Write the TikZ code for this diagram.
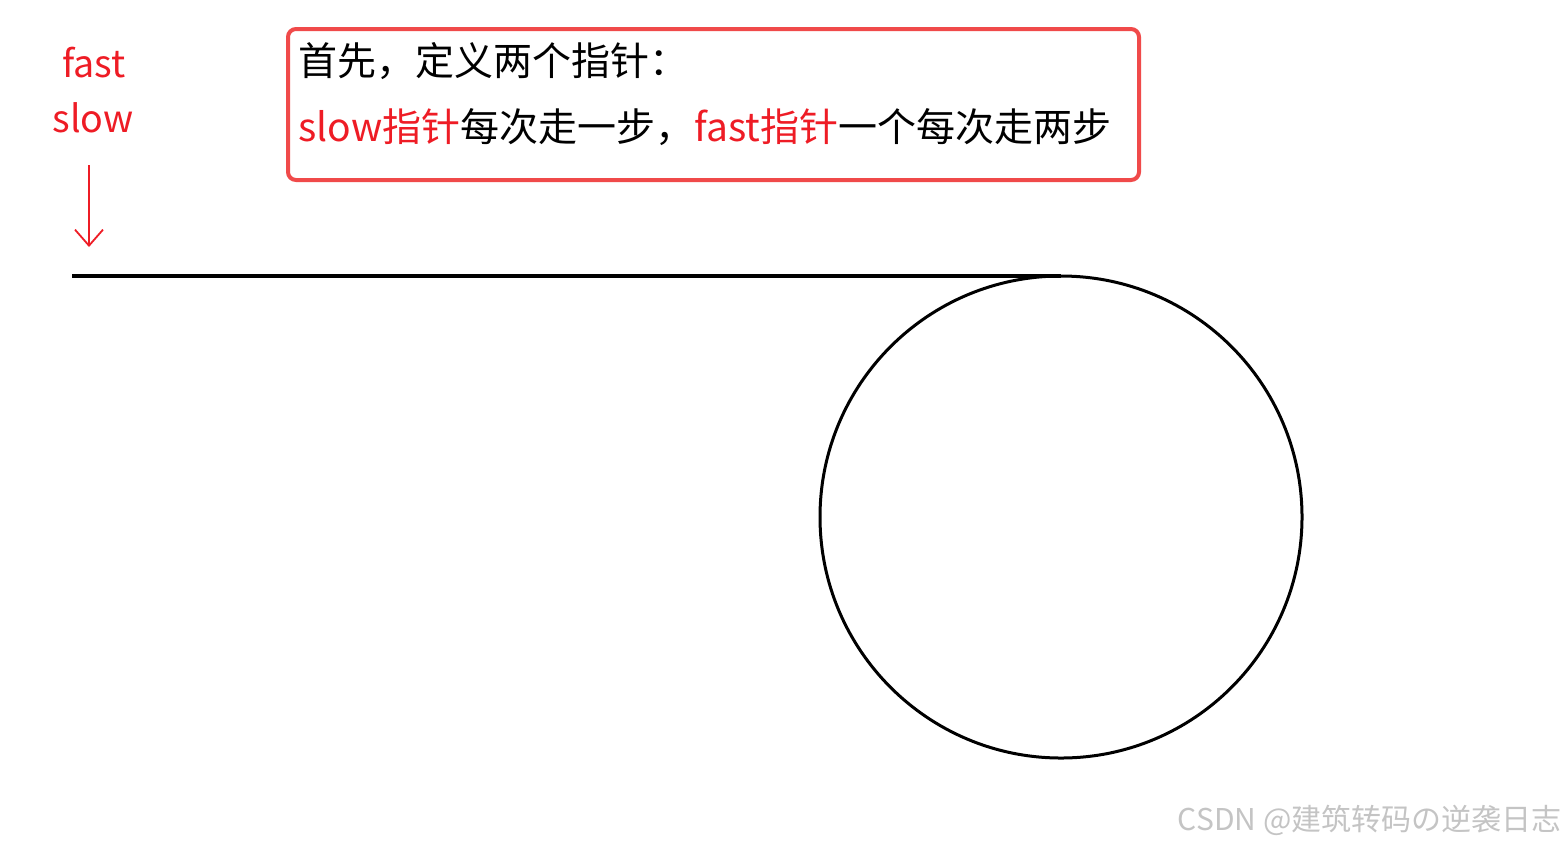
\documentclass[tikz,border=0pt]{standalone}
\usepackage{fontspec}
\setmainfont{Noto Sans CJK SC}
\usetikzlibrary{arrows.meta}
\definecolor{ptrred}{HTML}{EE1C25}
\definecolor{boxred}{HTML}{F04A4A}
\definecolor{wmgray}{HTML}{C4C4C4}
\tikzset{
  bigtext/.style={inner sep=0pt, font=\fontsize{19.5pt}{22pt}\selectfont},
  labeltext/.style={inner sep=0pt, text=ptrred, font=\fontsize{18.8pt}{22pt}\selectfont},
  wmtext/.style={inner sep=0pt, text=wmgray, font=\fontsize{15pt}{17pt}\selectfont},
  track/.style={line width=1.7pt, black},
  notebox/.style={draw=boxred, line width=2pt, rounded corners=4pt},
  ptrarrow/.style={ptrred, line width=0.9pt, -{Straight Barb[length=8pt,width=14pt,line width=0.9pt]}}
}
\begin{document}
\begin{tikzpicture}[x=0.5pt,y=-0.5pt]
\useasboundingbox (0,0) rectangle (1566,847);
% note box
\draw[notebox] (288,29) rectangle (1139,180);
\node[bigtext, anchor=base west] (l1) at (298,75) {首先，定义两个指针：};
\node[bigtext, anchor=base west] (l2) at (298,141) {\textcolor{ptrred}{slow指针}每次走一步，\textcolor{ptrred}{fast指针}一个每次走两步};
% pointer labels
\node[labeltext, anchor=base] (fast) at (94,77) {fast};
\node[labeltext, anchor=base] (slow) at (93,132) {slow};
\coordinate (atop) at (89,165);
\coordinate (atip) at (89,247);
\draw[ptrarrow] (atop) -- (atip);
% track and loop
\node[draw, circle, line width=1.5pt, minimum size=241pt, inner sep=0pt, outer sep=0pt] (loop) at (1061,517) {};
\coordinate (start) at (72,276);
\draw[track] (start) -- (loop.north);
% watermark
\node[wmtext, anchor=base east] (wm) at (1562,830) {CSDN @建筑转码の逆袭日志};
\end{tikzpicture}
\end{document}
